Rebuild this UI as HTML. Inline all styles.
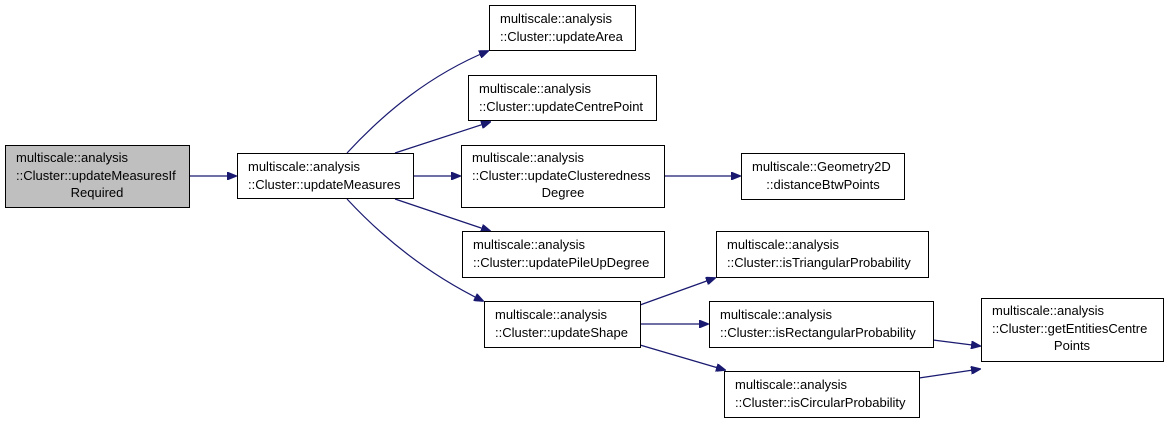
<!DOCTYPE html>
<html><head><style>
html,body{margin:0;padding:0;background:#fff;}
svg text{font-family:"Liberation Sans",sans-serif;font-size:13px;fill:#000;}
</style></head><body>
<svg width="1168" height="421" viewBox="0 0 1168 421" xmlns="http://www.w3.org/2000/svg">
<defs>
<marker id="a" markerWidth="10" markerHeight="8" refX="9" refY="4" orient="auto" markerUnits="userSpaceOnUse">
<path d="M0,0 L10,4 L0,8 Z" fill="#191970" stroke="#191970"/>
</marker>
</defs>
<g fill="none" stroke="#191970" stroke-width="1.2" marker-end="url(#a)">
<path d="M189,176 L236,176"/>
<path d="M347,153 C385,112 430,75 488,51"/>
<path d="M395,153 L490,122"/>
<path d="M413,176 L460,176"/>
<path d="M395,199 L490,231"/>
<path d="M347,199 C385,240 430,275 483,301"/>
<path d="M664,176 L740,176"/>
<path d="M640,305 L715,278"/>
<path d="M640,324 L708,324"/>
<path d="M640,345 L725,370"/>
<path d="M933,340 L980,346"/>
<path d="M919,378 L980,369"/>
</g>
<g stroke="#000" stroke-width="1" fill="#fff">
<rect x="5.5" y="145.5" width="184" height="62" fill="#bfbfbf"/>
<rect x="237.5" y="153.5" width="176" height="45"/>
<rect x="489.5" y="5.5" width="146" height="45"/>
<rect x="468.5" y="75.5" width="188" height="45"/>
<rect x="461.5" y="145.5" width="203" height="62"/>
<rect x="741.5" y="153.5" width="163" height="46"/>
<rect x="462.5" y="231.5" width="202" height="46"/>
<rect x="484.5" y="301.5" width="156" height="46"/>
<rect x="716.5" y="231.5" width="212" height="46"/>
<rect x="709.5" y="301.5" width="224" height="46"/>
<rect x="724.5" y="371.5" width="195" height="46"/>
<rect x="981.5" y="298.5" width="182" height="63"/>
</g>
<text x="16" y="162">multiscale::analysis</text>
<text x="16" y="180">::Cluster::updateMeasuresIf</text>
<text x="97" y="197" text-anchor="middle">Required</text>
<text x="248" y="171">multiscale::analysis</text>
<text x="248" y="189">::Cluster::updateMeasures</text>
<text x="500" y="23">multiscale::analysis</text>
<text x="500" y="41">::Cluster::updateArea</text>
<text x="479" y="93">multiscale::analysis</text>
<text x="479" y="111">::Cluster::updateCentrePoint</text>
<text x="472" y="162">multiscale::analysis</text>
<text x="472" y="180">::Cluster::updateClusteredness</text>
<text x="563" y="197" text-anchor="middle">Degree</text>
<text x="752" y="171">multiscale::Geometry2D</text>
<text x="823" y="189" text-anchor="middle">::distanceBtwPoints</text>
<text x="473" y="249">multiscale::analysis</text>
<text x="473" y="267">::Cluster::updatePileUpDegree</text>
<text x="495" y="319">multiscale::analysis</text>
<text x="495" y="337">::Cluster::updateShape</text>
<text x="727" y="249">multiscale::analysis</text>
<text x="727" y="267">::Cluster::isTriangularProbability</text>
<text x="720" y="319">multiscale::analysis</text>
<text x="720" y="337">::Cluster::isRectangularProbability</text>
<text x="735" y="389">multiscale::analysis</text>
<text x="735" y="407">::Cluster::isCircularProbability</text>
<text x="992" y="315">multiscale::analysis</text>
<text x="992" y="333">::Cluster::getEntitiesCentre</text>
<text x="1072" y="350" text-anchor="middle">Points</text>
</svg>
</body></html>
